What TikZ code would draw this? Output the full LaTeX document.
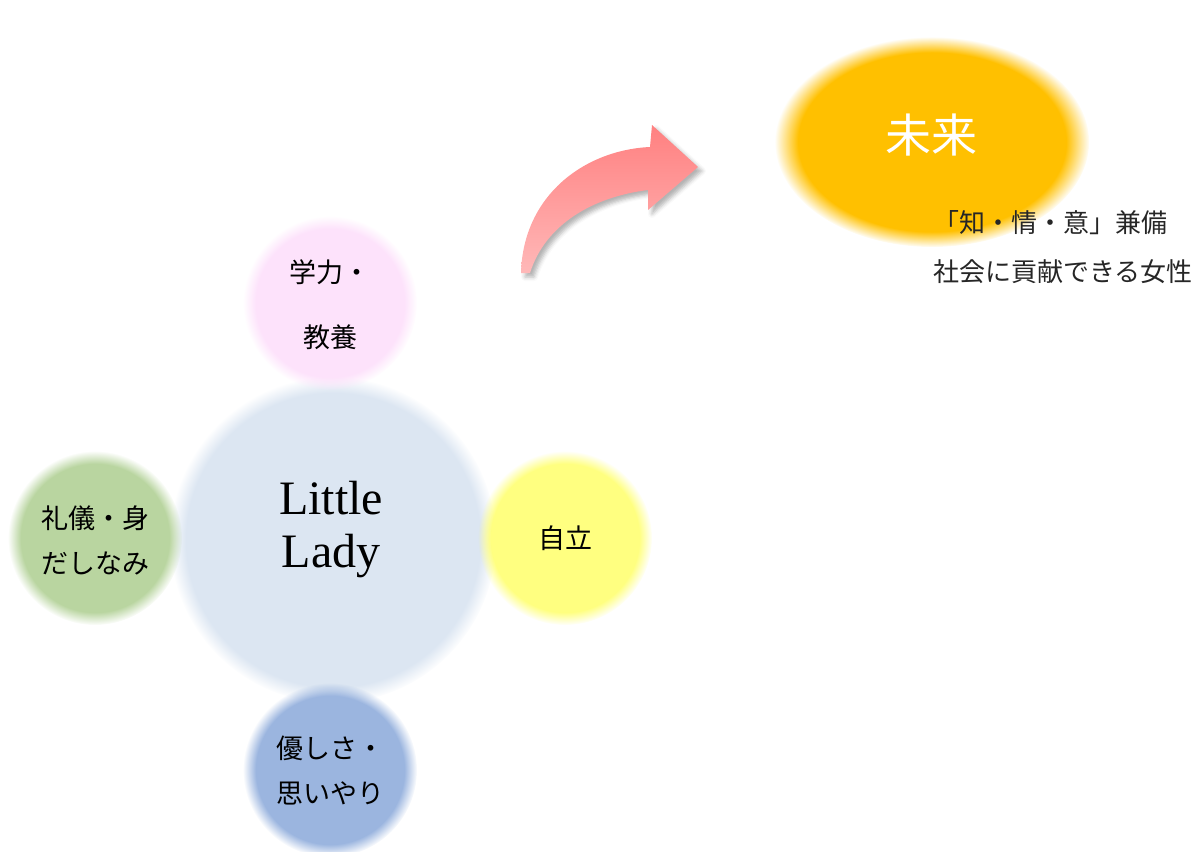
\documentclass[tikz,border=0pt]{standalone}
\usepackage{fontspec}
\newfontfamily\jfont{Noto Sans CJK JP}
\newfontfamily\lfont{Liberation Serif}
\usetikzlibrary{fadings,shadows,shadows.blur}
\definecolor{cCenter}{HTML}{DCE6F2}
\definecolor{cPink}{HTML}{FDE2FB}
\definecolor{cYellow}{HTML}{FFFF80}
\definecolor{cGreen}{HTML}{B9D5A0}
\definecolor{cBlue}{HTML}{9BB5DF}
\definecolor{cOrange}{HTML}{FFC000}
\definecolor{cArrowTop}{HTML}{FF8080}
\definecolor{cArrowBot}{HTML}{FFB8B8}
\tikzset{
  softblob/.style={path fading=circle with fuzzy edge 15 percent},
  softbig/.style={path fading=circle with fuzzy edge 10 percent},
  jtext/.style={font=\jfont\fontsize{27}{45}\selectfont, align=center, text=black, inner sep=0pt},
  sidetext/.style={font=\jfont\fontsize{26}{30}\selectfont, anchor=west, inner sep=0pt, text=black!85}
}
\begin{document}
\begin{tikzpicture}[x=1pt,y=-1pt]
\useasboundingbox (0,0) rectangle (1198,851);
% central circle
\fill[cCenter, softbig] (333,540) circle (163pt);
% satellites
\fill[cPink, softblob] (330,303) circle (87pt);
\fill[cYellow, softblob] (565,538) circle (87pt);
\fill[cGreen, softblob] (95,538) circle (87pt);
\fill[cBlue, softblob] (330,770) circle (87pt);
% future ellipse
\fill[cOrange, softblob] (932,142) ellipse [x radius=157pt, y radius=105pt];
% texts
\node[inner sep=0pt, align=center, font=\lfont\fontsize{48}{53}\selectfont] (ll) at (331,530) {Little\\Lady};
\node[jtext, font=\jfont\fontsize{27}{65}\selectfont] (gaku) at (330,305) {学力・\\教養};
\node[jtext] (jiritsu) at (565,538) {自立};
\node[jtext] (reigi) at (95,540) {礼儀・身\\だしなみ};
\node[jtext] (yasa) at (330,771) {優しさ・\\思いやり};
\node[inner sep=0pt, text=white, font=\jfont\fontsize{46}{50}\selectfont] (mirai) at (931,135) {未来};
\node[sidetext] (t1) at (933,223) {「知・情・意」兼備};
\node[sidetext] (t2) at (933,272) {社会に貢献できる女性};
% curved arrow
\shade[top color=cArrowTop, bottom color=cArrowBot,
  blur shadow={shadow xshift=4pt, shadow yshift=-4pt, shadow blur radius=4pt, shadow opacity=30}]
  (521,273) .. controls (523,195) and (585,150) .. (650,147)
  -- (652,125) -- (698,167) -- (648,210) -- (648,190)
  .. controls (592,197) and (545,225) .. (530,273) -- cycle;
\end{tikzpicture}
\end{document}
